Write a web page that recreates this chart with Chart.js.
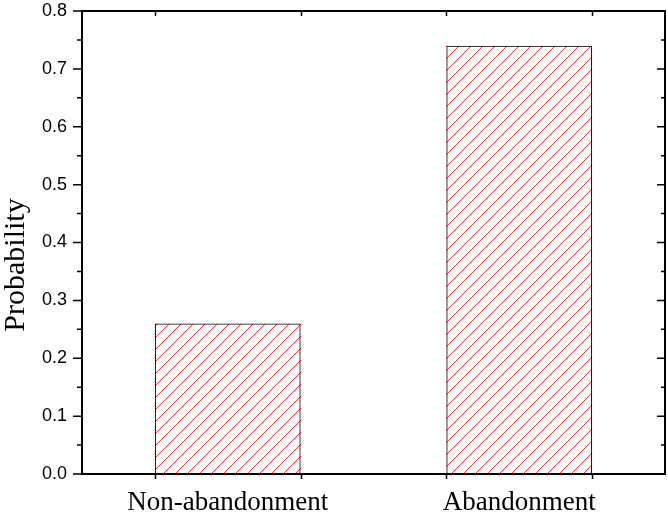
<!DOCTYPE html>
<html>
<head>
<meta charset="utf-8">
<script src="https://cdn.jsdelivr.net/npm/chart.js@4"></script>
<style>
  html, body { margin: 0; padding: 0; background: #fff; }
  #wrap { width: 668px; height: 515px; }
</style>
</head>
<body>
<div id="wrap"><canvas id="c" width="668" height="515"></canvas></div>
<script>
const categories = ['Non-abandonment', 'Abandonment'];
const probability = [0.26, 0.74];
const yTickValues = [0.0, 0.1, 0.2, 0.3, 0.4, 0.5, 0.6, 0.7, 0.8];
const yTitle = 'Probability';

const hatchPlugin = {
  id: 'hatch',
  beforeDatasetDraw(chart, args) {
    const ctx = chart.ctx;
    const meta = chart.getDatasetMeta(args.index);
    ctx.save();
    ctx.fillStyle = '#ff2a2a';
    const step = 12;
    meta.data.forEach(bar => {
      const left = Math.round(bar.x - bar.width / 2), right = Math.round(bar.x + bar.width / 2);
      const top = Math.round(Math.min(bar.y, bar.base)), bottom = Math.round(Math.max(bar.y, bar.base));
      for (let yy = top; yy < bottom; yy++) {
        const first = Math.ceil((left + yy) / step) * step;
        for (let c = first; c - yy < right; c += step) {
          const xx = c - yy;
          if (xx >= left && xx < right) ctx.fillRect(xx, yy, 1, 1);
        }
      }
    });
    ctx.restore();
  }
};

const framePlugin = {
  id: 'frame',
  afterDatasetsDraw(chart) {
    const ctx = chart.ctx;
    const a = chart.chartArea;
    const y = chart.scales.y;
    ctx.save();
    ctx.strokeStyle = '#000';
    ctx.lineWidth = 1.5;
    ctx.beginPath();
    for (let i = 0; i < yTickValues.length; i++) {
      const v = yTickValues[i];
      const py = y.getPixelForValue(v);
      ctx.moveTo(a.left - 9, py); ctx.lineTo(a.left, py);
      ctx.moveTo(a.right, py); ctx.lineTo(a.right - 8, py);
      if (i < yTickValues.length - 1) {
        const pm = y.getPixelForValue(v + 0.05);
        ctx.moveTo(a.left - 5, pm); ctx.lineTo(a.left, pm);
        ctx.moveTo(a.right, pm); ctx.lineTo(a.right - 4, pm);
      }
    }
    const meta = chart.getDatasetMeta(0);
    meta.data.forEach(bar => {
      const half = bar.width / 2;
      [bar.x - half, bar.x + half].forEach(px => {
        px = Math.round(px) + 0.5;
        ctx.moveTo(px, a.bottom); ctx.lineTo(px, a.bottom + 5);
        ctx.moveTo(px, a.top); ctx.lineTo(px, a.top + 5);
      });
    });
    ctx.stroke();
    ctx.lineWidth = 2;
    ctx.strokeRect(a.left, a.top, a.right - a.left, a.bottom - a.top);
    ctx.fillStyle = '#000';
    ctx.font = '30px "Liberation Serif", "Times New Roman", serif';
    ctx.textAlign = 'center';
    ctx.textBaseline = 'alphabetic';
    ctx.translate(24, 265);
    ctx.rotate(-Math.PI / 2);
    ctx.fillText(yTitle, 0, 0);
    ctx.restore();
  }
};

new Chart(document.getElementById('c'), {
  type: 'bar',
  data: {
    labels: categories,
    datasets: [{
      data: probability,
      backgroundColor: 'rgba(255,255,255,0)',
      borderColor: '#000',
      borderWidth: 1,
      borderSkipped: false,
      barPercentage: 0.5,
      categoryPercentage: 1.0
    }]
  },
  options: {
    responsive: false,
    animation: false,
    devicePixelRatio: 1,
    layout: { padding: { top: 11, right: 3, left: 0, bottom: 0 } },
    plugins: { legend: { display: false }, tooltip: { enabled: false } },
    scales: {
      x: {
        offset: true,
        grid: { display: false },
        border: { display: false },
        ticks: {
          color: '#000',
          padding: 5,
          maxRotation: 0,
          font: { family: '"Liberation Serif", "Times New Roman", serif', size: 27 }
        },
        afterFit(s) { s.height = 41; s.paddingLeft = 0; s.paddingRight = 0; }
      },
      y: {
        min: 0,
        max: 0.8,
        grid: { display: false },
        border: { display: false },
        ticks: {
          stepSize: 0.1,
          color: '#000',
          padding: 7,
          font: { family: '"Liberation Sans", Arial, sans-serif', size: 18 },
          callback: v => Number(v).toFixed(1)
        },
        afterFit(s) { s.width = 82; s.paddingTop = 0; s.paddingBottom = 0; }
      }
    }
  },
  plugins: [hatchPlugin, framePlugin]
});
</script>
</body>
</html>
